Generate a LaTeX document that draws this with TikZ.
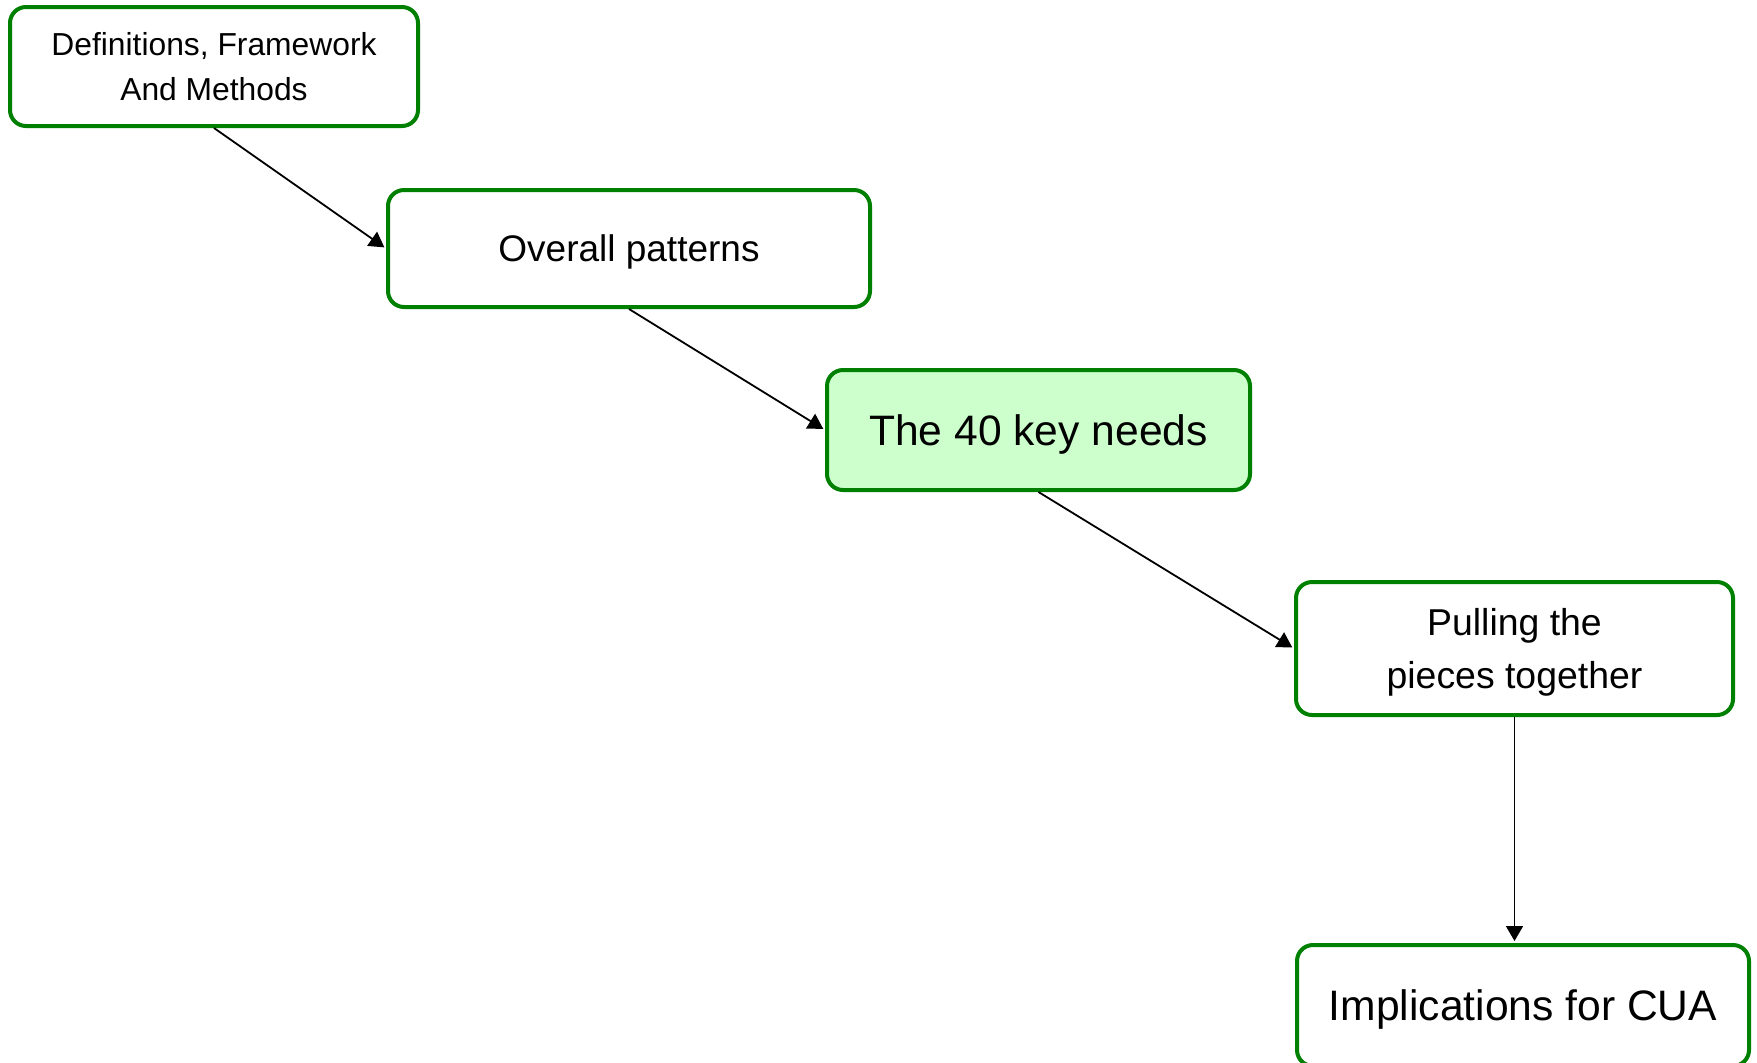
\documentclass[tikz,border=0pt]{standalone}
\usepackage{fontspec}
\setmainfont{Liberation Sans}
\usetikzlibrary{arrows.meta,positioning}

\begin{document}
\begin{tikzpicture}[x=1pt,y=1pt,
    box/.style={draw=green!50!black,line width=2pt,rounded corners=8pt,fill=white,
                align=center,inner sep=0pt,text depth=0pt},
    keybox/.style={box,fill=green!20},
    link/.style={-{Triangle[length=7.5pt,width=8.5pt]},line width=0.9pt,shorten >=1pt}]

    \useasboundingbox (0,0) rectangle (878.5,-531);

    \node[box,minimum width=204pt,minimum height=59.5pt,font=\fontsize{15.9}{22.5}\selectfont]
        (defs) at (107,-33.25) {Definitions, Framework\\And Methods};
    \node[box,minimum width=241pt,minimum height=58.5pt,font=\fontsize{18.5}{22}\selectfont]
        (overall) at (314.5,-124.25) {Overall patterns};
    \node[keybox,minimum width=211.5pt,minimum height=60pt,font=\fontsize{21.3}{26}\selectfont]
        (needs) at (519.25,-215) {The 40 key needs};
    \node[box,minimum width=218.5pt,minimum height=66.5pt,font=\fontsize{18.7}{26.5}\selectfont]
        (pieces) at (757.25,-324.25) {Pulling the\\pieces together};
    \node[box,minimum width=226pt,minimum height=60.5pt,font=\fontsize{21.3}{25}\selectfont]
        (cua) at (761.5,-502.75) {Implications for CUA};

    \draw[link] (defs.south) -- (overall.west);
    \draw[link] (overall.south) -- (needs.west);
    \draw[link] (needs.south) -- (pieces.west);
    \draw[link] (pieces.south) -- (pieces.south |- cua.north);
\end{tikzpicture}
\end{document}
